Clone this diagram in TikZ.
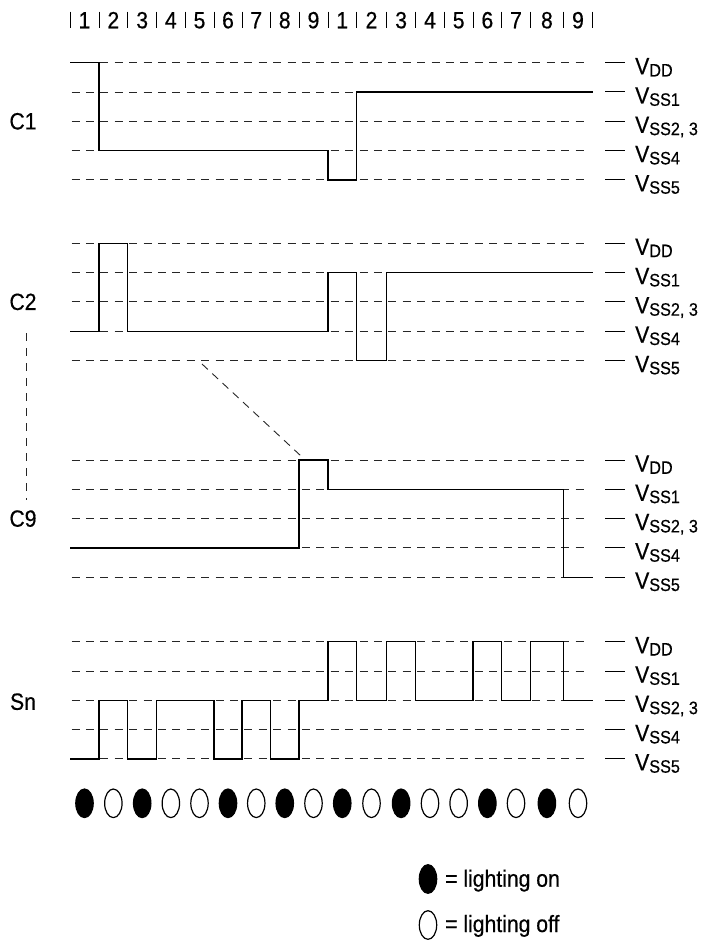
\documentclass[tikz,border=0pt]{standalone}
\usepackage{fontspec}
\setmainfont{Liberation Sans}[FakeStretch=0.9, FakeBold=0.5]
\usetikzlibrary{shapes.geometric,calc}
\begin{document}
\begin{tikzpicture}[x=1pt,y=-1pt,
  wave/.style={line width=1.3pt, line join=miter},
  grid/.style={line width=0.9pt, dash pattern=on 8pt off 6.4pt, black!85},
  tick/.style={line width=1pt},
  lbl/.style={font=\fontsize{23.5}{23.5}\selectfont, inner sep=0pt},
  lamp/.style={ellipse, draw, line width=1.2pt, minimum width=17.4pt, minimum height=28.6pt, inner sep=0pt},
  lampon/.style={lamp, fill=black},
  lampoff/.style={lamp, fill=white}]
\useasboundingbox (0,0) rectangle (705,941);

% slot boundaries
\foreach \xx [count=\i from 0] in {70,99,127.7,156.7,185,214,242,270.5,299,328,356.5,386.5,415.7,444.3,473,501.7,530.3,563.5,592.5}
  {\coordinate (t\i) at (\xx,0);}

% top column numbers
\foreach \i in {0,...,18} {\draw[tick] (t\i) ++(0,11.7) -- ++(0,16.6);}
\foreach \i/\d [evaluate=\i as \j using int(\i+1)] in {0/1,1/2,2/3,3/4,4/5,5/6,6/7,7/8,8/9,9/1,10/2,11/3,12/4,13/5,14/6,15/7,16/8,17/9}
  {\node[lbl, anchor=base] (num\i) at ($(t\i)!0.5!(t\j)+(0,28.3)$) {\d};}

% levels, dashed lines, ticks and labels
\foreach \g/\top in {1/62.7,2/243.3,3/460,4/641.7} {
  \foreach \k/\lab in {0/DD,1/SS1,2/{SS2, 3},3/SS4,4/SS5} {
    \coordinate (g\g-\k) at (71.5,{\top+29.3*\k});
    \draw[grid] (g\g-\k) -- ++(513.5,0);
    \draw[tick] (g\g-\k) ++(533.5,0) -- ++(19.5,0);
    \node[lbl, anchor=base west] (v\g-\k) at ($(g\g-\k)+(563.5,11.5)$)
      {V\raisebox{-2.3pt}{\fontsize{18}{18}\selectfont\lab}};
  }
}

% channel labels
\node[lbl] (C1) at (23,121.3) {C1};
\node[lbl] (C2) at (23,301.9) {C2};
\node[lbl] (C9) at (23,518.6) {C9};
\node[lbl] (Sn) at (23,701.7) {Sn};
\coordinate (dvA) at (26.7,333);
\coordinate (dvB) at (26.7,500);
\draw[grid, dash pattern=on 8pt off 7pt] (dvA) -- (dvB);
\coordinate (dgA) at (202,364);
\coordinate (dgB) at (301,456);
\draw[grid, dash pattern=on 8pt off 6pt] (dgA) -- (dgB);

% waveforms
\draw[wave] (t0|-g1-0) \foreach \t/\l in {1/3,9/4,10/1} { -| (t\t|-g1-\l) } -- (t18|-g1-1);
\draw[wave] (t0|-g2-3) \foreach \t/\l in {1/0,2/3,9/1,10/4,11/1} { -| (t\t|-g2-\l) } -- (t18|-g2-1);
\draw[wave] (t0|-g3-3) \foreach \t/\l in {8/0,9/1,17/4} { -| (t\t|-g3-\l) } -- (t18|-g3-4);
\draw[wave] (t0|-g4-4) \foreach \t/\l in {1/2,2/4,3/2,5/4,6/2,7/4,8/2,9/0,10/2,11/0,12/2,14/0,15/2,16/0,17/2} { -| (t\t|-g4-\l) } -- (t18|-g4-2);

% lamps
\foreach \i/\s [evaluate=\i as \j using int(\i+1)] in {0/on,1/off,2/on,3/off,4/off,5/on,6/off,7/on,8/off,9/on,10/off,11/on,12/off,13/off,14/on,15/off,16/on,17/off}
  {\node[lamp\s] (lamp\i) at ($(t\i)!0.5!(t\j)+(0,803.3)$) {};}

% legend
\node[lampon] (legon) at (428,879) {};
\node[lbl, anchor=base west] (legontext) at (445,886.7) {= lighting on};
\node[lampoff] (legoff) at (428,925) {};
\node[lbl, anchor=base west] (legofftext) at (445,932) {= lighting off};
\end{tikzpicture}
\end{document}
